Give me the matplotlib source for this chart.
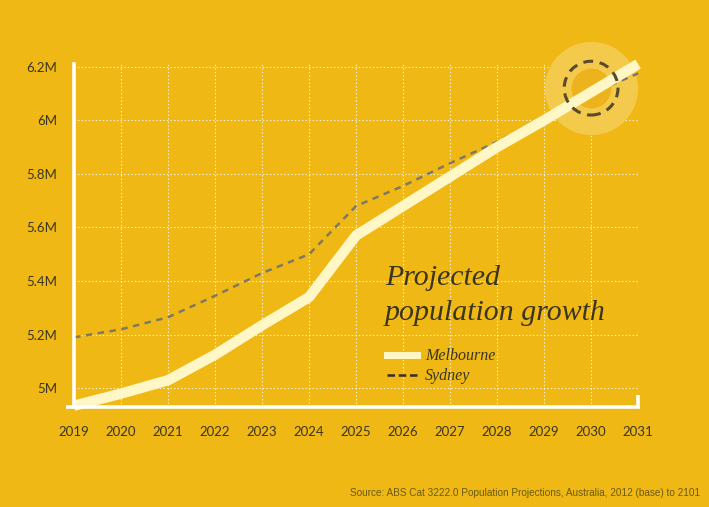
import matplotlib
matplotlib.use("Agg")
import matplotlib.pyplot as plt
from matplotlib.lines import Line2D

# data (millions of people)
years = [2019, 2020, 2021, 2022, 2023, 2024, 2025, 2026, 2027, 2028, 2029, 2030, 2031]
melbourne = [4.935, 4.98, 5.03, 5.125, 5.235, 5.34, 5.57, 5.68, 5.79, 5.90, 6.00, 6.105, 6.21]
sydney = [5.19, 5.22, 5.265, 5.345, 5.43, 5.50, 5.68, 5.755, 5.84, 5.92, 6.01, 6.10, 6.175]
y_ticks = [5.0, 5.2, 5.4, 5.6, 5.8, 6.0, 6.2]
y_labels = ["5M", "5.2M", "5.4M", "5.6M", "5.8M", "6M", "6.2M"]
highlight = (2030, 6.12)

BG = "#F0B814"
MEL = "#FFF8C6"
SYD = "#7C7A66"
TXT = "#3A3520"
WHITE = "#FFFFFF"

fig = plt.figure(figsize=(7.09, 5.07), dpi=100, facecolor=BG)
ax = fig.add_axes([0.1044, 0.1972, 0.7956, 0.6765])
ax.set_facecolor(BG)

# highlight blob around 2030
ax.scatter([highlight[0]], [highlight[1]], s=4500, color="#F3CA4C", zorder=1,
           linewidths=0, clip_on=False)
ax.scatter([highlight[0]], [highlight[1]], s=820, color="#EDB31C", zorder=1.5,
           linewidths=0, clip_on=False)
ax.scatter([highlight[0]], [highlight[1]], s=1500, facecolors="none", edgecolors="#5A4A2C",
           linewidths=2.2, linestyle=(0, (3.2, 2.2)), zorder=6, clip_on=False)

ax.plot(years, sydney, color=SYD, lw=1.8, ls=(0, (2.6, 2.2)), zorder=3, clip_on=False)
ax.plot(years, melbourne, color=MEL, lw=7.5, solid_capstyle="butt", zorder=4, clip_on=False)

ax.set_xlim(2019, 2031)
ax.set_ylim(4.93, 6.21)
ax.set_xticks(years)
ax.set_xticklabels([str(y) for y in years])
ax.set_yticks(y_ticks)
ax.set_yticklabels(y_labels)

for side in ["top", "right"]:
    ax.spines[side].set_visible(False)
for side in ["left", "bottom"]:
    ax.spines[side].set_color(WHITE)
    ax.spines[side].set_linewidth(2.6)
    ax.spines[side].set_zorder(5)

ax.tick_params(axis="both", which="major", length=0, colors=TXT, labelsize=9.5)
ax.tick_params(axis="y", which="major", pad=12)
ax.tick_params(axis="x", which="major", pad=14)
for lab in ax.get_xticklabels() + ax.get_yticklabels():
    lab.set_family(["Lato", "DejaVu Sans"])

# little white hooks at the ends of the axes
ax.set_yticks([4.93, 6.2], minor=True)
ax.set_xticks([2019], minor=True)
ax.tick_params(axis="both", which="minor", length=6, width=2.6, color=WHITE, direction="out")
ax.plot([1, 1], [0, 0.035], transform=ax.transAxes, color=WHITE, lw=2.6,
        clip_on=False, zorder=5, solid_capstyle="butt")

ax.grid(True, which="major", color=WHITE, ls=(0, (1.2, 2)), lw=0.8, alpha=0.85)
ax.set_axisbelow(True)

serif = ["Liberation Serif", "DejaVu Serif"]
fig.text(0.543, 0.4379, "Projected", fontsize=21.5, style="italic",
         family=serif, color=TXT, ha="left", va="baseline")
fig.text(0.543, 0.3688, "population growth", fontsize=21.5, style="italic",
         family=serif, color=TXT, ha="left", va="baseline")

handles = [Line2D([], [], color=MEL, lw=5),
           Line2D([], [], color="#3A2A2A", lw=1.8, ls=(0, (3, 1.5)))]
fig.legend(handles, ["Melbourne", "Sydney"], loc="upper left",
           bbox_to_anchor=(0.526, 0.341), frameon=False, handlelength=1.85,
           handletextpad=0.5, labelspacing=0.25,
           prop={"family": serif, "style": "italic", "size": 11.5}, labelcolor=TXT)

fig.text(0.987, 0.018, "Source: ABS Cat 3222.0 Population Projections, Australia, 2012 (base) to 2101",
         fontsize=7.2, family=["Liberation Sans Narrow", "Liberation Sans", "DejaVu Sans"],
         color="#6A5A12", ha="right", va="bottom")

fig.savefig("out.png", dpi=100, facecolor=BG)
